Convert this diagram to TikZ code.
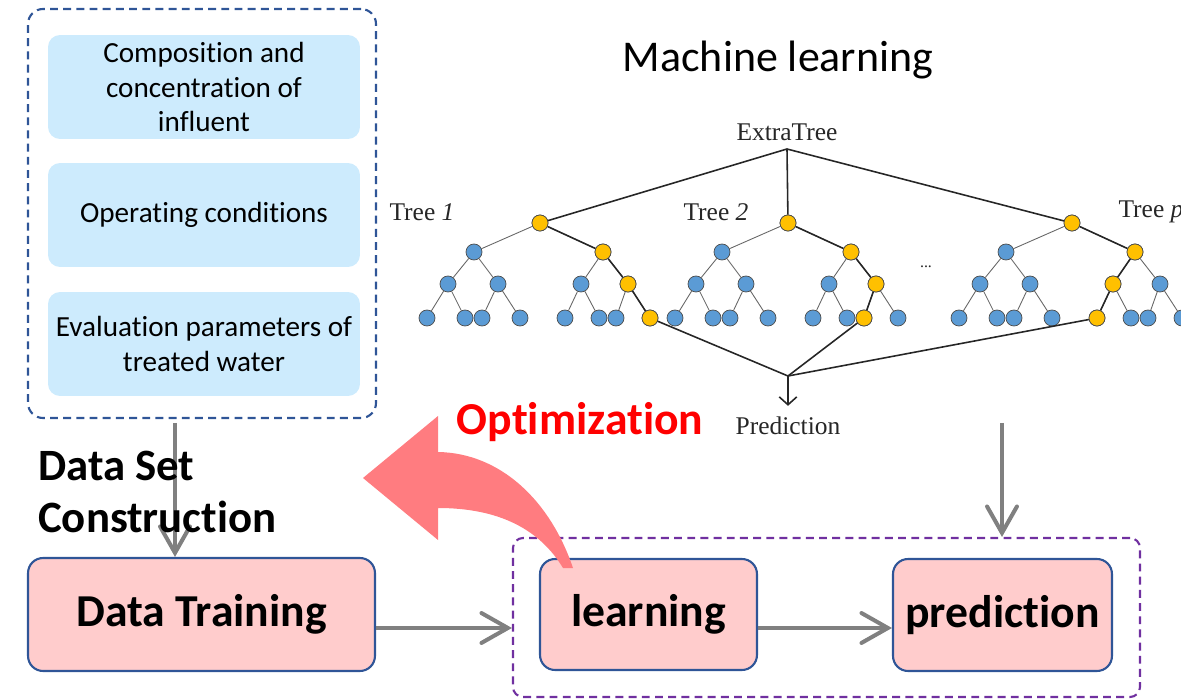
\documentclass[tikz,border=0pt]{standalone}
\usepackage{fontspec}
\setmainfont{Carlito}[Ligatures=NoCommon]
\newfontfamily\treefont{Liberation Serif}
\usepackage{tikz}
\usetikzlibrary{arrows.meta,fit}
\definecolor{setblue}{HTML}{2F5597}
\definecolor{mlpurple}{HTML}{7030A0}
\definecolor{itemfill}{HTML}{CDEBFD}
\definecolor{stepfill}{HTML}{FFCCCC}
\definecolor{flowgray}{HTML}{808080}
\definecolor{optired}{HTML}{FF7C80}
\definecolor{treeblue}{HTML}{5B9BD5}
\definecolor{treeyellow}{HTML}{FFC000}
% one decision tree: (prefix:root x)[hot level-2 node:hot leaf]
\def\mltree(#1:#2)[#3:#4]{%
  \node[tnode] (#1r) at (#2,223) {};
  \node[tnode] (#1a) at (#2-66,252) {};
  \node[tnode] (#1b) at (#2+63,252) {};
  \node[tnode] (#1c) at (#2-92,284) {};
  \node[tnode] (#1d) at (#2-42,284) {};
  \node[tnode] (#1e) at (#2+41,284) {};
  \node[tnode] (#1f) at (#2+88,284) {};
  \foreach \i/\dx in {1/-113,2/-75,3/-58,4/-20,5/25,6/59,7/76,8/110}
    \node[tnode] (#1l\i) at ({#2+(\dx)},318) {};
  \foreach \p/\c in {r/a,r/b,a/c,a/d,b/e,b/f,c/l1,c/l2,d/l3,d/l4,e/l5,e/l6,f/l7,f/l8}
    \draw[tedge] (#1\p) -- (#1\c);
  \draw[hotedge] (#1r) -- (#1b) -- (#1#3) -- (#1l#4);
  \foreach \k in {r,b,#3,l#4}
    \node[tnode,fill=treeyellow] (#1\k) at (#1\k) {};
}

\begin{document}
\begin{tikzpicture}[x=0.02cm,y=-0.02cm,
    setbox/.style={draw=setblue,line width=1.2pt,dash pattern=on 4.5pt off 3pt,rounded corners=0.3cm,inner sep=0},
    mlbox/.style={draw=mlpurple,line width=1.2pt,dash pattern=on 4.5pt off 3pt,rounded corners=0.2cm,inner sep=0},
    itembox/.style={fill=itemfill,rounded corners=0.24cm,minimum width=6.24cm,minimum height=2.08cm,
      align=center,font=\fontsize{16.6}{19.8}\selectfont},
    stepbox/.style={draw=setblue,line width=1.2pt,fill=stepfill,rounded corners=0.3cm,
      font=\fontsize{26}{30}\selectfont\bfseries},
    flow/.style={draw=flowgray,line width=2.3pt,-{Straight Barb[length=15pt,width=17pt,line cap=round]}},
    tnode/.style={circle,draw=black!70,line width=0.4pt,fill=treeblue,minimum size=0.32cm,inner sep=0},
    tedge/.style={draw=black!60,line width=0.5pt},
    hotedge/.style={draw=black!85,line width=0.9pt},
    treelbl/.style={font=\fontsize{14.5}{16}\selectfont\treefont,text=black!85}]
  \useasboundingbox (0,0) rectangle (1181,699);
  %%%%% START %%%%%

  % data set
  \node[setbox,fit={(28,9) (376,418)}] (dataset) {};
  \node[itembox] (comp) at (204,87) {Composition and\\concentration of\\influent};
  \node[itembox] (oper) at (204,215) {Operating conditions};
  \node[itembox] (eval) at (204,344) {Evaluation parameters of\\treated water};

  % extra trees
  \node[font=\fontsize{25}{29}\selectfont] (mltitle) at (778,60) {Machine learning};
  \node[treelbl] (extra) at (787,132) {ExtraTree};
  \coordinate (etop) at (787,149);
  \mltree(t1:540)[f:8]
  \mltree(t2:788)[f:7]
  \mltree(tp:1072)[e:5]
  \draw[hotedge] (etop) -- (t1r);
  \draw[hotedge] (etop) -- (t2r);
  \draw[hotedge] (etop) -- (tpr);
  \node[treelbl] (tree1) at (422,212) {Tree \textit{1}};
  \node[treelbl] (tree2) at (716,212) {Tree \textit{2}};
  \node[treelbl] (treep) at (1151,212) {Tree \textit{p}};
  \node[treelbl,font=\small\treefont] (dots) at (926,267) {...};
  \coordinate (vote) at (788,376);
  \node[treelbl] (predlabel) at (788,426) {Prediction};
  \draw[hotedge] (t1l8) -- (vote);
  \draw[hotedge] (t2l7) -- (vote);
  \draw[hotedge] (tpl5) -- (vote);
  \draw[hotedge,-{Straight Barb[length=4.5pt,width=10pt]}] (vote) -- ([yshift=0.1cm]predlabel.north);

  % workflow
  \node[mlbox,fit={(513,538) (1140,697)}] (mlgroup) {};
  \node[stepbox,minimum width=6.94cm,minimum height=2.26cm] (train) at (201.5,614.5) {Data Training};
  \node[stepbox,minimum width=4.34cm,minimum height=2.22cm] (learn) at (648.5,614.5) {learning};
  \node[stepbox,minimum width=4.38cm,minimum height=2.24cm] (predict) at (1002.5,615) {prediction};
  \coordinate (setout) at (175,423);
  \coordinate (mlout) at (1002,423);
  \draw[flow] (setout) -- (setout |- train.north);
  \draw[flow] (mlout) -- (mlout |- mlgroup.north);
  \draw[flow] ([yshift=-0.27cm]train.east) -- ([yshift=-0.27cm]train.east -| mlgroup.west);
  \draw[flow] ([yshift=-0.27cm]learn.east) -- ([yshift=-0.27cm]learn.east -| predict.west);
  \node[anchor=north west,align=left,font=\fontsize{25.5}{29.5}\selectfont\bfseries] (dslabel) at (32,445) {Data Set\\Construction};

  % optimization
  \fill[optired] (438,416) -- (363,478) -- (438,540) -- (438,508)
    .. controls (500,508) and (540,530) .. (563,568) -- (573,568)
    .. controls (550,500) and (500,453) .. (438,452) -- cycle;
  \node[font=\fontsize{26}{30}\selectfont\bfseries,text=red] (opti) at (580,422) {Optimization};

  %%%%% END %%%%%
\end{tikzpicture}
\end{document}
